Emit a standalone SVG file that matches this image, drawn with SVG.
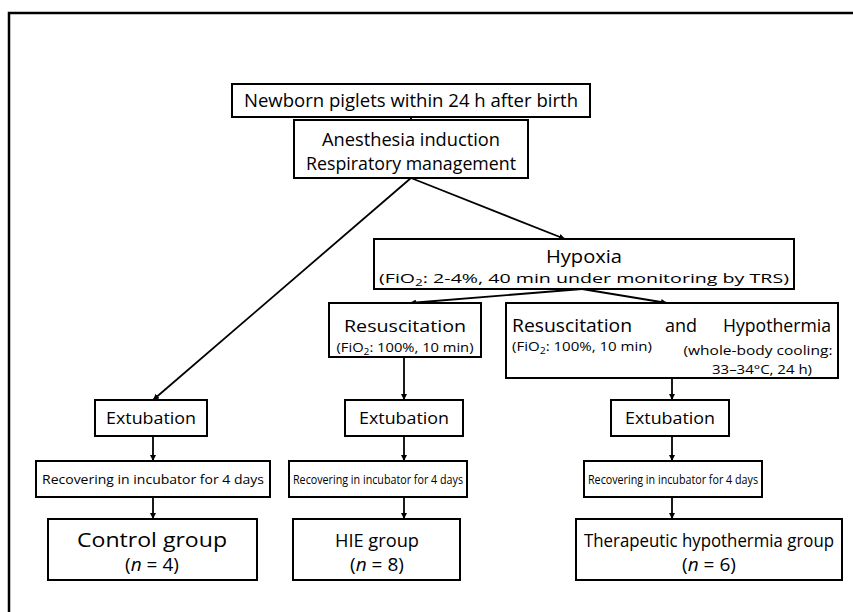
<svg xmlns="http://www.w3.org/2000/svg" width="853" height="612" viewBox="0 0 853 612">
<defs>
<marker id="ah" viewBox="0 0 10 10" refX="10" refY="5" markerWidth="6" markerHeight="6" markerUnits="userSpaceOnUse" orient="auto">
<path d="M0,0 L10,5 L0,10 z" fill="#000"/>
</marker>
<style>
.box{fill:#fff;stroke:#000;stroke-width:2}
.t{font-family:"Open Sans","Noto Sans","Liberation Sans",sans-serif;fill:#000;text-anchor:middle}
.l{font-size:19px}
.m{font-size:17px}
.s{font-size:13px}
.c{fill:none;stroke:#000;stroke-width:1.8;marker-end:url(#ah)}
</style>
</defs>
<rect width="853" height="612" fill="#fff"/>
<path d="M9,612 V13 H853" fill="none" stroke="#000" stroke-width="2.5"/>

<g id="connectors">
<path class="c" d="M411,117 V120"/>
<path class="c" d="M411,178 L153,400"/>
<path class="c" d="M411,178 L565,239"/>
<path class="c" d="M582,289 L410,303"/>
<path class="c" d="M582,289 L667,303"/>
<path class="c" d="M404,357 V400"/>
<path class="c" d="M672,378 V400"/>
<path class="c" d="M153,436 V461"/>
<path class="c" d="M404,436 V461"/>
<path class="c" d="M672,436 V461"/>
<path class="c" d="M153,497 V519"/>
<path class="c" d="M404,497 V519"/>
<path class="c" d="M672,497 V519"/>
</g>

<g id="newborn">
<rect class="box" x="232" y="84" width="358" height="33"/>
<text class="t l" x="411" y="107" textLength="334" lengthAdjust="spacingAndGlyphs">Newborn piglets within 24 h after birth</text>
</g>
<g id="anesthesia">
<rect class="box" x="294" y="120" width="234" height="58"/>
<text class="t l" x="411" y="146" textLength="178" lengthAdjust="spacingAndGlyphs">Anesthesia induction</text>
<text class="t l" x="411" y="170" textLength="210" lengthAdjust="spacingAndGlyphs">Respiratory management</text>
</g>
<g id="hypoxia">
<rect class="box" x="374" y="239" width="420" height="50"/>
<text class="t l" x="584" y="263" textLength="76" lengthAdjust="spacingAndGlyphs">Hypoxia</text>
<text class="t s" x="584" y="283" textLength="410" lengthAdjust="spacingAndGlyphs">(FiO<tspan font-size="9" dy="3">2</tspan><tspan dy="-3">: 2-4%, 40 min under monitoring by TRS)</tspan></text>
</g>
<g id="resuscitation">
<rect class="box" x="329" y="303" width="152" height="54"/>
<text class="t m" x="405" y="332" textLength="122" lengthAdjust="spacingAndGlyphs">Resuscitation</text>
<text class="t s" x="405" y="352" textLength="137" lengthAdjust="spacingAndGlyphs">(FiO<tspan font-size="9" dy="3">2</tspan><tspan dy="-3">: 100%, 10 min)</tspan></text>
</g>
<g id="resus-hypo">
<rect class="box" x="506" y="303" width="332" height="75"/>
<text class="t" font-size="18" x="512" y="332" style="text-anchor:start" textLength="120" lengthAdjust="spacingAndGlyphs">Resuscitation</text>
<text class="t" font-size="18" x="681" y="332">and</text>
<text class="t" font-size="18" x="831" y="332" style="text-anchor:end" textLength="108" lengthAdjust="spacingAndGlyphs">Hypothermia</text>
<text class="t s" x="582" y="351" textLength="140" lengthAdjust="spacingAndGlyphs">(FiO<tspan font-size="9" dy="3">2</tspan><tspan dy="-3">: 100%, 10 min)</tspan></text>
<text class="t s" x="758" y="355" textLength="149" lengthAdjust="spacingAndGlyphs">(whole-body cooling:</text>
<text class="t s" x="762" y="374" textLength="100" lengthAdjust="spacingAndGlyphs">33–34°C, 24 h)</text>
</g>
<g id="ext-control">
<rect class="box" x="95" y="400" width="112" height="36"/>
<text class="t m" x="151" y="424" textLength="90" lengthAdjust="spacingAndGlyphs">Extubation</text>
</g>
<g id="ext-hie">
<rect class="box" x="345" y="400" width="118" height="36"/>
<text class="t m" x="404" y="424" textLength="90" lengthAdjust="spacingAndGlyphs">Extubation</text>
</g>
<g id="ext-th">
<rect class="box" x="611" y="400" width="118" height="36"/>
<text class="t m" x="670" y="424" textLength="90" lengthAdjust="spacingAndGlyphs">Extubation</text>
</g>
<g id="rec-control">
<rect class="box" x="36" y="461" width="234" height="36"/>
<text class="t s" x="153" y="484" textLength="222" lengthAdjust="spacingAndGlyphs">Recovering in incubator for 4 days</text>
</g>
<g id="rec-hie">
<rect class="box" x="289" y="461" width="178" height="36"/>
<text class="t s" x="378" y="484" textLength="170" lengthAdjust="spacingAndGlyphs">Recovering in incubator for 4 days</text>
</g>
<g id="rec-th">
<rect class="box" x="584" y="461" width="178" height="36"/>
<text class="t s" x="673" y="484" textLength="170" lengthAdjust="spacingAndGlyphs">Recovering in incubator for 4 days</text>
</g>
<g id="control">
<rect class="box" x="48" y="519" width="209" height="61"/>
<text class="t" font-size="20" x="152" y="547" textLength="150" lengthAdjust="spacingAndGlyphs">Control group</text>
<text class="t" font-size="19" x="152" y="571">(<tspan font-style="italic">n</tspan> = 4)</text>
</g>
<g id="hie">
<rect class="box" x="293" y="519" width="167" height="61"/>
<text class="t" font-size="19" x="377" y="547" textLength="84" lengthAdjust="spacingAndGlyphs">HIE group</text>
<text class="t" font-size="19" x="377" y="571">(<tspan font-style="italic">n</tspan> = 8)</text>
</g>
<g id="th">
<rect class="box" x="576" y="519" width="266" height="61"/>
<text class="t" font-size="18" x="709" y="547" textLength="250" lengthAdjust="spacingAndGlyphs">Therapeutic hypothermia group</text>
<text class="t" font-size="19" x="709" y="571">(<tspan font-style="italic">n</tspan> = 6)</text>
</g>
</svg>
